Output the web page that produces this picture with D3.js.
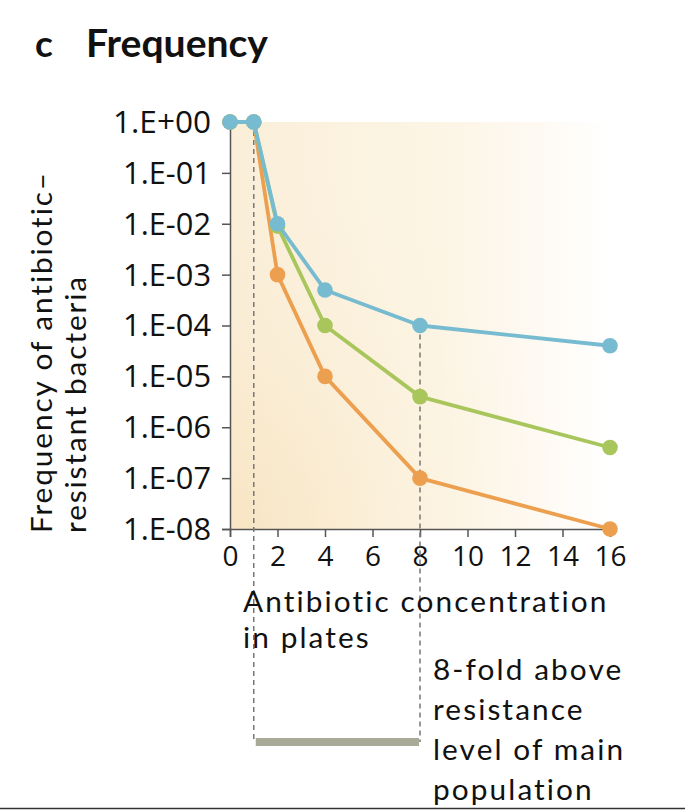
<!DOCTYPE html>
<html><head><meta charset="utf-8">
<script src="https://cdn.jsdelivr.net/npm/d3@7"></script>
<style>body{margin:0;background:#fff}svg{display:block}</style>
</head><body>
<svg id="chart" width="685" height="812"></svg>
<script>
const concentrations = [0, 1, 2, 4, 8, 16];
const blueSeries   = [1, 1, 1e-2, 5e-4, 1e-4, 4e-5];
const greenSeries  = [1, 1, 9e-3, 1e-4, 4e-6, 4e-7];
const orangeSeries = [1, 1, 1e-3, 1e-5, 1e-7, 1e-8];
const xTicks = [0, 2, 4, 6, 8, 10, 12, 14, 16];
const yTicks = [1, 1e-1, 1e-2, 1e-3, 1e-4, 1e-5, 1e-6, 1e-7, 1e-8];
const yTickLabels = ["1.E+00","1.E-01","1.E-02","1.E-03","1.E-04","1.E-05","1.E-06","1.E-07","1.E-08"];
const markers = [1, 8];

const svg = d3.select("#chart");
const font = "'Open Sans', Lato, sans-serif";
const labelFont = "Lato, 'Open Sans', sans-serif";
const x = d3.scaleLinear().domain([0, 16]).range([230, 610]);
const y = d3.scaleLog().domain([1, 1e-8]).range([122, 529]);

function fit(sel, w) {
  const cur = sel.node().getComputedTextLength();
  const fs = parseFloat(sel.attr("font-size"));
  sel.attr("font-size", (fs * w / cur).toFixed(2));
}
function spread(sel, w) {
  const cur = sel.node().getComputedTextLength();
  const n = sel.text().length;
  sel.attr("letter-spacing", ((w - cur) / n).toFixed(2));
}

// background gradients
const defs = svg.append("defs");
const lin = defs.append("linearGradient").attr("id","bgLin").attr("x1","0").attr("x2","1").attr("y1","0").attr("y2","0");
lin.append("stop").attr("offset","0").attr("stop-color","#FAEED8");
lin.append("stop").attr("offset","0.55").attr("stop-color","#FCF5E5");
lin.append("stop").attr("offset","0.82").attr("stop-color","#FEFAF3");
lin.append("stop").attr("offset","1").attr("stop-color","#FFFFFF");
const rad = defs.append("radialGradient").attr("id","bgRad")
  .attr("cx","0").attr("cy","1").attr("r","0.9").attr("fx","0").attr("fy","1");
rad.append("stop").attr("offset","0").attr("stop-color","#F5D9A8").attr("stop-opacity",0.45);
rad.append("stop").attr("offset","0.5").attr("stop-color","#F7E0B8").attr("stop-opacity",0.15);
rad.append("stop").attr("offset","1").attr("stop-color","#FAEBD0").attr("stop-opacity",0);
const bgW = x(16)-x(0), bgH = y(1e-8)-y(1);
svg.append("rect").attr("x", x(0)).attr("y", y(1)).attr("width", bgW).attr("height", bgH).attr("fill","url(#bgLin)");
svg.append("rect").attr("x", x(0)).attr("y", y(1)).attr("width", bgW).attr("height", bgH).attr("fill","url(#bgRad)");

// title
svg.append("text").attr("x",35).attr("y",57).attr("font-family",labelFont).attr("font-weight",700)
  .attr("font-size",37).attr("fill","#111").text("c");
const tt = svg.append("text").attr("x",86).attr("y",57).attr("font-family",labelFont).attr("font-weight",700)
  .attr("font-size",37).attr("fill","#111").text("Frequency");
fit(tt, 182);

// axes
const yAxis = d3.axisLeft(y).tickValues(yTicks).tickFormat((d,i)=>yTickLabels[i]).tickSizeOuter(0).tickSize(8).tickPadding(11);
const gy = svg.append("g").attr("transform",`translate(${x(0)},0)`).call(yAxis);
gy.selectAll("text").attr("font-family",font).attr("font-size",26).attr("fill","#111").attr("dy","0.34em");
gy.selectAll("line, path").attr("stroke","#555").attr("stroke-width",1.5);
gy.selectAll(".tick text").each(function(d,i){ fit(d3.select(this), i===0 ? 98 : 88); });

const xAxis = d3.axisBottom(x).tickValues(xTicks).tickSizeOuter(0).tickSize(8).tickPadding(9);
const gx = svg.append("g").attr("transform",`translate(0,${y(1e-8)})`).call(xAxis);
gx.selectAll("text").attr("font-family",font).attr("font-size",28).attr("fill","#111");
gx.selectAll("line, path").attr("stroke","#555").attr("stroke-width",1.5);

// dashed guide lines
const barY = 742;
svg.append("line").attr("x1",x(markers[0])).attr("x2",x(markers[0]))
  .attr("y1",y(1)).attr("y2",barY).attr("stroke","#777").attr("stroke-width",1.5).attr("stroke-dasharray","5,4");
svg.append("line").attr("x1",x(markers[1])).attr("x2",x(markers[1]))
  .attr("y1",y(blueSeries[4])).attr("y2",barY).attr("stroke","#777").attr("stroke-width",1.5).attr("stroke-dasharray","5,4");
svg.append("line").attr("x1",x(markers[0])+2).attr("x2",x(markers[1])-1)
  .attr("y1",barY).attr("y2",barY).attr("stroke","#A9AA98").attr("stroke-width",8);

// series
const series = [
  {vals: orangeSeries, color: "#ECA04F"},
  {vals: greenSeries, color: "#A8C65C"},
  {vals: blueSeries, color: "#77BBD1"}
];
const line = d3.line().x(d=>x(d[0])).y(d=>y(d[1]));
series.forEach(s => {
  const pts = concentrations.map((c,i)=>[c, s.vals[i]]);
  svg.append("path").datum(pts).attr("d",line).attr("fill","none")
    .attr("stroke",s.color).attr("stroke-width",3.8).attr("stroke-linejoin","round");
  svg.selectAll(null).data(pts).enter().append("circle")
    .attr("cx",d=>x(d[0])).attr("cy",d=>y(d[1])).attr("r",7.8).attr("fill",s.color);
});

// axis titles
const LFS = 29.8;
const yl1 = svg.append("text").attr("transform","translate(52,533) rotate(-90)")
  .attr("font-family",labelFont).attr("font-size",LFS).attr("fill","#111").text("Frequency of antibiotic–");
spread(yl1, 363);
svg.append("text").attr("transform","translate(86,533) rotate(-90)")
  .attr("font-family",labelFont).attr("font-size",LFS).attr("fill","#111")
  .attr("letter-spacing", yl1.attr("letter-spacing")).text("resistant bacteria");

const xl1 = svg.append("text").attr("x",243).attr("y",612).attr("font-family",labelFont).attr("font-size",LFS).attr("fill","#111").text("Antibiotic concentration");
spread(xl1, 367);
const ls = xl1.attr("letter-spacing");
svg.append("text").attr("x",243).attr("y",648).attr("font-family",labelFont).attr("font-size",LFS)
  .attr("letter-spacing",ls).attr("fill","#111").text("in plates");

["8-fold above","resistance","level of main","population"].forEach((t,i)=>{
  svg.append("text").attr("x",433).attr("y",680+i*40).attr("font-family",labelFont).attr("font-size",LFS)
    .attr("letter-spacing",ls).attr("fill","#111").text(t);
});

svg.append("line").attr("x1",0).attr("x2",685).attr("y1",808.5).attr("y2",808.5)
  .attr("stroke","#333").attr("stroke-width",1.5);
</script>
</body></html>
